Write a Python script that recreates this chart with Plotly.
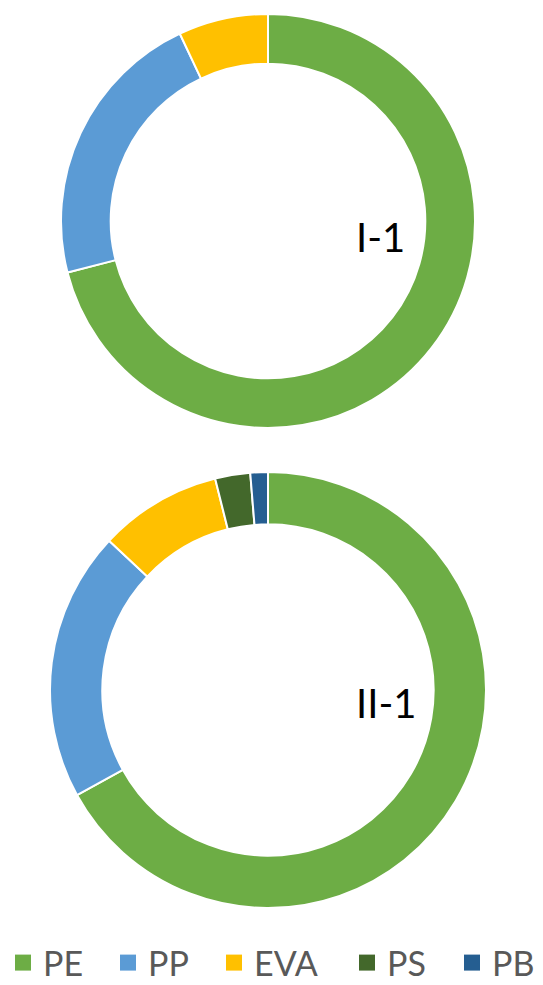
import plotly.graph_objects as go

labels = ["PE", "PP", "EVA", "PS", "PB"]
colors = ["#6DAD45", "#5B9BD5", "#FFC000", "#43682B", "#255E91"]
values_I1 = [71.0, 22.0, 7.0, 0.0, 0.0]
values_II1 = [67.0, 20.0, 9.1, 2.6, 1.3]
titles = ["I-1", "II-1"]

W, H = 543, 985
FONT = "Lato, Carlito, sans-serif"

def dom(x0, x1, y0, y1):
    return dict(x=[x0 / W, x1 / W], y=[1 - y1 / H, 1 - y0 / H])

fig = go.Figure()
fig.add_trace(go.Pie(
    labels=labels, values=values_I1, hole=0.76, sort=False,
    direction="clockwise", rotation=0, textinfo="none", hoverinfo="label+percent",
    marker=dict(colors=colors, line=dict(color="white", width=2)),
    domain=dom(61, 475, 14, 428), showlegend=False,
))
fig.add_trace(go.Pie(
    labels=labels, values=values_II1, hole=0.76, sort=False,
    direction="clockwise", rotation=0, textinfo="none", hoverinfo="label+percent",
    marker=dict(colors=colors, line=dict(color="white", width=2)),
    domain=dom(50, 486, 472, 908), showlegend=False,
))

# legend entries (one legend per label so each can be placed like the original)
legend_centers = [23, 128, 234, 367, 472]
layout_legends = {}
for i, (lab, col, cx) in enumerate(zip(labels, colors, legend_centers)):
    key = "legend" if i == 0 else f"legend{i + 1}"
    fig.add_trace(go.Scatter(
        x=[None], y=[None], mode="markers", name=lab, legend=key,
        marker=dict(symbol="square", size=16, color=col), showlegend=True,
        hoverinfo="skip",
    ))
    layout_legends[key] = dict(
        orientation="h", x=(cx - 20) / W, xanchor="left",
        y=1 - 963 / H, yanchor="middle", bgcolor="rgba(0,0,0,0)",
        font=dict(family=FONT, size=34, color="#595959"),
        itemwidth=30,
    )

fig.add_annotation(x=380 / W, y=1 - 237 / H, xref="paper", yref="paper",
                   xanchor="center", yanchor="middle",
                   text=titles[0], showarrow=False,
                   font=dict(family=FONT, size=40, color="#000000"))
fig.add_annotation(x=386 / W, y=1 - 703 / H, xref="paper", yref="paper",
                   xanchor="center", yanchor="middle",
                   text=titles[1], showarrow=False,
                   font=dict(family=FONT, size=40, color="#000000"))

fig.update_layout(
    width=W, height=H,
    margin=dict(l=0, r=0, t=0, b=0, autoexpand=False),
    paper_bgcolor="white", plot_bgcolor="white",
    xaxis=dict(visible=False), yaxis=dict(visible=False),
    **layout_legends,
)

fig.write_html("out.html", config={"displayModeBar": False},
               post_script="document.body.style.margin='0';")
